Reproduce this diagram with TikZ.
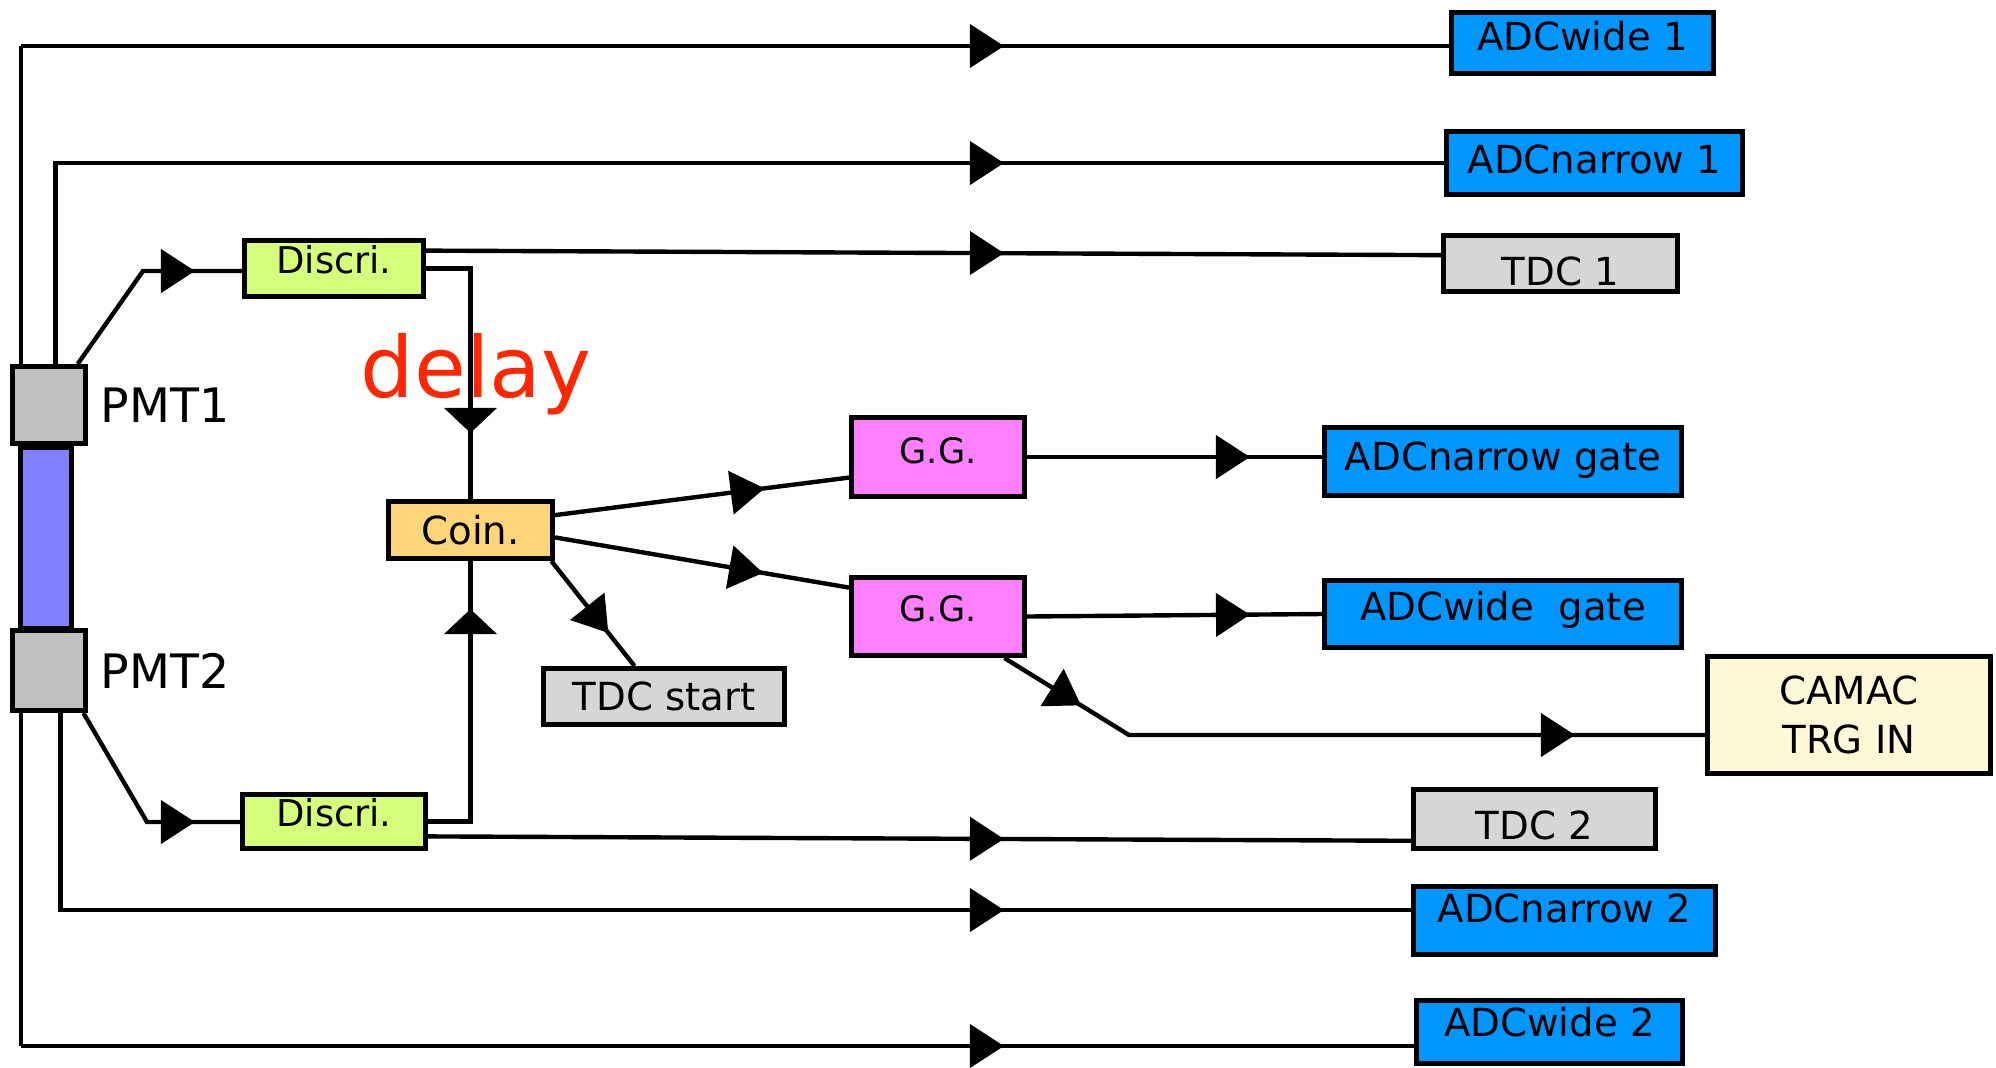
\documentclass[tikz,border=0pt]{standalone}
\usepackage{fontspec}
\setmainfont{DejaVu Sans}
\usetikzlibrary{arrows.meta, decorations.markings}

\definecolor{adcblue}{RGB}{0,150,255}
\definecolor{discgreen}{RGB}{213,255,122}
\definecolor{coinorange}{RGB}{255,213,122}
\definecolor{ggpink}{RGB}{255,128,255}
\definecolor{tdcgrey}{RGB}{214,214,214}
\definecolor{pmtgrey}{RGB}{192,192,192}
\definecolor{scintblue}{RGB}{128,128,255}
\definecolor{camacyellow}{RGB}{255,248,214}
\definecolor{delayred}{RGB}{255,38,0}

\tikzset{
  wire/.style={line width=1.25pt},
  box/.style={draw, line width=1.3pt, inner sep=0pt, font=\fontsize{11}{13}\selectfont},
  one/.style={text height=0.28cm, text depth=#1}, one/.default=0pt,
  low/.style={text height=#1, text depth=0pt},
  adc/.style={box, fill=adcblue},
  tdc/.style={box, fill=tdcgrey},
  disc/.style={box, fill=discgreen, font=\fontsize{10.5}{12}\selectfont},
  gg/.style={box, fill=ggpink, font=\fontsize{10}{12}\selectfont},
  pmt/.style={box, fill=pmtgrey},
  arr/.style={postaction={decorate, decoration={markings,
    mark=at position #1 with {\arrow{Triangle[length=0.34cm, width=0.43cm]}}}}},
  varr/.style={postaction={decorate, decoration={markings,
    mark=at position #1 with {\arrow{Triangle[length=0.25cm, width=0.52cm]}}}}},
}

\begin{document}
\begin{tikzpicture}
\useasboundingbox (0,0) rectangle (19.96,-10.67);

% left signal lines
\coordinate (tl) at (0.21,-0.46);
\coordinate (bl) at (0.21,-10.46);
\coordinate (n1) at (0.555,-1.63);
\coordinate (n2) at (0.605,-9.10);
\draw [wire] (tl) -- (bl);

% counter and PMTs
\node [box, fill=scintblue, minimum width=0.515cm, minimum height=1.80cm] (scint) at (0.46,-5.38) {};
\node [pmt, minimum width=0.735cm, minimum height=0.775cm, label={[font=\fontsize{13.5}{16}\selectfont, text depth=0pt, inner sep=0pt, label distance=0.12cm]right:PMT1}] (pmt1) at (0.49,-4.05) {};
\node [pmt, minimum width=0.735cm, minimum height=0.805cm, label={[font=\fontsize{13.5}{16}\selectfont, text depth=0pt, inner sep=0pt, label distance=0.12cm]right:PMT2}] (pmt2) at (0.49,-6.705) {};

% modules
\node [disc, one=0.19cm, minimum width=1.795cm, minimum height=0.565cm] (disc1) at (3.34,-2.685) {Discri.};
\node [disc, one=0.19cm, minimum width=1.835cm, minimum height=0.545cm] (disc2) at (3.34,-8.215) {Discri.};
\node [box, fill=coinorange, one, minimum width=1.645cm, minimum height=0.575cm] (coin) at (4.705,-5.30) {Coin.};
\node [gg, one=0.15cm, minimum width=1.735cm, minimum height=0.795cm] (gg1) at (9.38,-4.57) {G.G.};
\node [gg, one=0.18cm, minimum width=1.735cm, minimum height=0.785cm] (gg2) at (9.38,-6.165) {G.G.};
\node [tdc, one, minimum width=2.405cm, minimum height=0.565cm] (tdcs) at (6.64,-6.965) {TDC start};

\node [adc, one=0.14cm, minimum width=2.625cm, minimum height=0.615cm] (adcw1) at (15.825,-0.43) {ADCwide 1};
\node [adc, one=0.08cm, minimum width=2.965cm, minimum height=0.635cm] (adcn1) at (15.945,-1.63) {ADCnarrow 1};
\node [tdc, low=0.43cm, minimum width=2.345cm, minimum height=0.565cm] (tdc1) at (15.605,-2.635) {TDC 1};
\node [adc, one=0.11cm, minimum width=3.575cm, minimum height=0.685cm] (adcng) at (15.03,-4.615) {ADCnarrow gate};
\node [adc, one=0.15cm, minimum width=3.575cm, minimum height=0.675cm] (adcwg) at (15.03,-6.14) {ADCwide~~gate};
\node [box, fill=camacyellow, align=center, minimum width=2.835cm, minimum height=1.175cm, font=\fontsize{11}{13.9}\selectfont] (camac) at (18.49,-7.15) {CAMAC\\TRG IN};
\node [tdc, low=0.41cm, minimum width=2.425cm, minimum height=0.595cm] (tdc2) at (15.345,-8.19) {TDC 2};
\node [adc, one=0.25cm, minimum width=3.025cm, minimum height=0.685cm] (adcn2) at (15.645,-9.205) {ADCnarrow 2};
\node [adc, one=0.19cm, minimum width=2.665cm, minimum height=0.635cm] (adcw2) at (15.495,-10.32) {ADCwide 2};

\node [text=delayred, font=\fontsize{24}{27}\selectfont, anchor=base, inner sep=0pt] (delay) at (4.76,-3.97) {delay};

% PMT outputs
\draw [wire, arr=-4.45cm] (tl) -- (tl -| adcw1.west);
\draw [wire, arr=-4.10cm] (bl) -- (bl -| adcw2.west);
\draw [wire, arr=-4.40cm] (n1 |- pmt1.north) -- (n1) -- (n1 -| adcn1.west);
\draw [wire, arr=-4.07cm] (n2 |- pmt2.south) -- (n2) -- (n2 -| adcn2.west);
\coordinate (b1) at (1.43,-2.71);
\coordinate (b2) at (1.47,-8.22);
\draw [wire, arr=-0.47cm] (pmt1.55) -- (b1) -- (b1 -| disc1.west);
\draw [wire, arr=-0.45cm] (pmt2.-51) -- (b2) -- (b2 -| disc2.west);

% discriminator outputs
\draw [wire, arr=-4.37cm] (disc1.11) -- (tdc1.176);
\draw [wire, arr=-4.07cm] (disc2.-9) -- (tdc2.190);
\draw [wire, varr=-0.66cm] (disc1.east) -| (coin.north);
\draw [wire, varr=-0.48cm] (disc2.east) -| (coin.south);

% coincidence and gate generators
\draw [wire, arr=-0.85cm] (coin.10) -- (gg1.193);
\draw [wire, arr=-0.87cm] (coin.-5) -- (gg2.162);
\draw [wire, arr=-0.42cm] (coin.-21.5) -- (tdcs.134);
\draw [wire, arr=-0.72cm] (gg1.east) -- (gg1.east -| adcng.west);
\draw [wire, arr=-0.72cm] (gg2.east) -- (adcwg.west);
\coordinate (cb) at (11.29,-7.35);
\draw [wire, arr=0.90cm, arr=-1.30cm] (gg2.-32) -- (cb) -- (cb -| camac.west);
\end{tikzpicture}
\end{document}
